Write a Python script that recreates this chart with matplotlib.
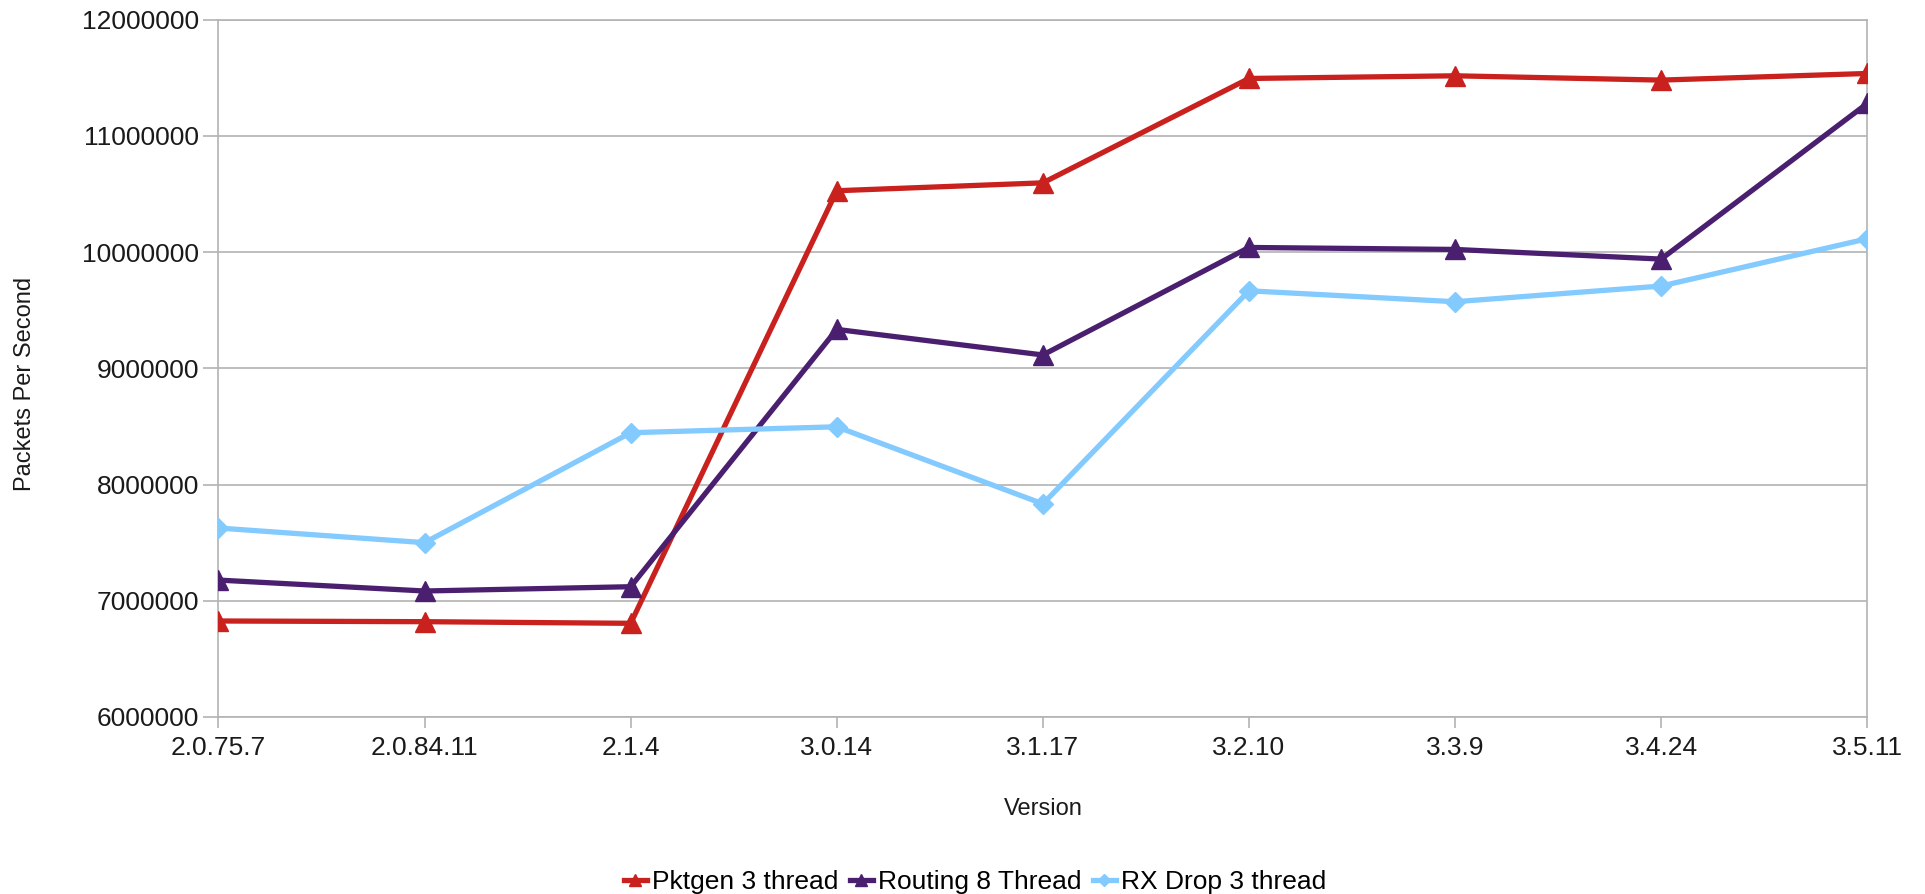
import matplotlib.pyplot as plt
import numpy as np

plt.rcParams['font.family'] = ['Liberation Sans', 'DejaVu Sans']

# --- Data ---
versions = ['2.0.75.7', '2.0.84.11', '2.1.4', '3.0.14', '3.1.17',
            '3.2.10', '3.3.9', '3.4.24', '3.5.11']
pktgen_3 = [6826000, 6820000, 6806000, 10528000, 10596000,
            11494000, 11517000, 11480000, 11537000]
routing_8 = [7178000, 7084000, 7121000, 9335000, 9115000,
             10040000, 10023000, 9940000, 11279000]
rxdrop_3 = [7626000, 7500000, 8446000, 8497000, 7834000,
            9667000, 9573000, 9708000, 10115000]
yticks = [6000000, 7000000, 8000000, 9000000, 10000000, 11000000, 12000000]

# --- Figure ---
fig = plt.figure(figsize=(19.25, 8.94), dpi=100)
ax = fig.add_axes([0.1135, 0.198, 0.8565, 0.780])

x = np.arange(len(versions))
grid_col = '#b3b3b3'

ax.plot(x, pktgen_3, color='#c9211e', lw=3.8, marker='^', ms=14,
        label='Pktgen 3 thread', zorder=3)
ax.plot(x, routing_8, color='#4b1f6f', lw=3.8, marker='^', ms=14,
        label='Routing 8 Thread', zorder=3)
ax.plot(x, rxdrop_3, color='#83caff', lw=3.8, marker='D', ms=10,
        label='RX Drop 3 thread', zorder=3)

ax.set_xlim(0, len(versions) - 1)
ax.set_ylim(yticks[0], yticks[-1])
ax.set_xticks(x)
ax.set_xticklabels(versions)
ax.set_yticks(yticks)
ax.set_yticklabels([str(v) for v in yticks])
ax.yaxis.grid(True, color=grid_col, lw=1.2)
ax.set_axisbelow(True)

for side in ['left', 'right', 'bottom', 'top']:
    ax.spines[side].set_color(grid_col)
    ax.spines[side].set_linewidth(1.2)

ax.tick_params(axis='x', length=8, width=1.2, color=grid_col,
               labelsize=19, pad=6, labelcolor='#1a1a1a')
ax.tick_params(axis='y', length=11, width=1.2, color=grid_col,
               labelsize=19, pad=3, labelcolor='#1a1a1a')

ax.set_xlabel('Version', fontsize=17, color='#1a1a1a', labelpad=27)
ax.set_ylabel('Packets Per Second', fontsize=17, color='#1a1a1a')
ax.yaxis.set_label_coords(-0.1105, 0.477)

fig.legend(loc='center', bbox_to_anchor=(0.5066, 0.0137), ncol=3,
           frameon=False, fontsize=19, handlelength=0.85, handletextpad=0.2,
           columnspacing=0.45, markerscale=0.6, borderaxespad=0)

plt.savefig('out.png', dpi=100)
